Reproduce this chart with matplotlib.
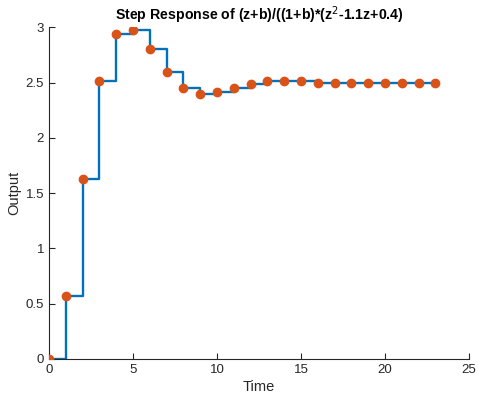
import matplotlib
matplotlib.use("Agg")
import matplotlib.pyplot as plt

plt.rcParams['font.family'] = ['Liberation Sans', 'DejaVu Sans']

# Discrete step response samples
time = list(range(24))
output = [0.0, 0.573, 1.627, 2.51, 2.939, 2.979, 2.807, 2.596, 2.451, 2.40,
          2.412, 2.451, 2.491, 2.512, 2.518, 2.512, 2.50, 2.497, 2.494, 2.494,
          2.496, 2.497, 2.499, 2.50]
xticks = [0, 5, 10, 15, 20, 25]
yticks = [0, 0.5, 1, 1.5, 2, 2.5, 3]

fig = plt.figure(figsize=(4.78, 4.03), dpi=100)
ax = fig.add_axes([0.1025, 0.1092, 0.8787, 0.823])

ax.step(time, output, where='post', color=(0, 0.447, 0.741), lw=1.7, zorder=2)
ax.plot(time, output, 'o', color=(0.85, 0.325, 0.098), ms=6, zorder=3)

ax.set_xlim(0, 25)
ax.set_ylim(0, 3)
ax.set_xticks(xticks)
ax.set_yticks(yticks)
ax.set_yticklabels(['0', '0.5', '1', '1.5', '2', '2.5', '3'])

dark = (0.15, 0.15, 0.15)
for side in ('top', 'right'):
    ax.spines[side].set_visible(False)
for side in ('left', 'bottom'):
    ax.spines[side].set_color(dark)
    ax.spines[side].set_linewidth(0.8)
ax.tick_params(direction='in', length=4, width=0.8, colors=dark, labelsize=9.5)

ax.set_xlabel('Time', fontsize=10.5, color=dark, labelpad=3)
ax.set_ylabel('Output', fontsize=10.5, color=dark, labelpad=3)
ax.set_title('Step Response of (z+b)/((1+b)*(z$^2$-1.1z+0.4)',
             fontsize=10.2, fontweight='bold', color='black', pad=5)

fig.savefig('out.png', dpi=100)
